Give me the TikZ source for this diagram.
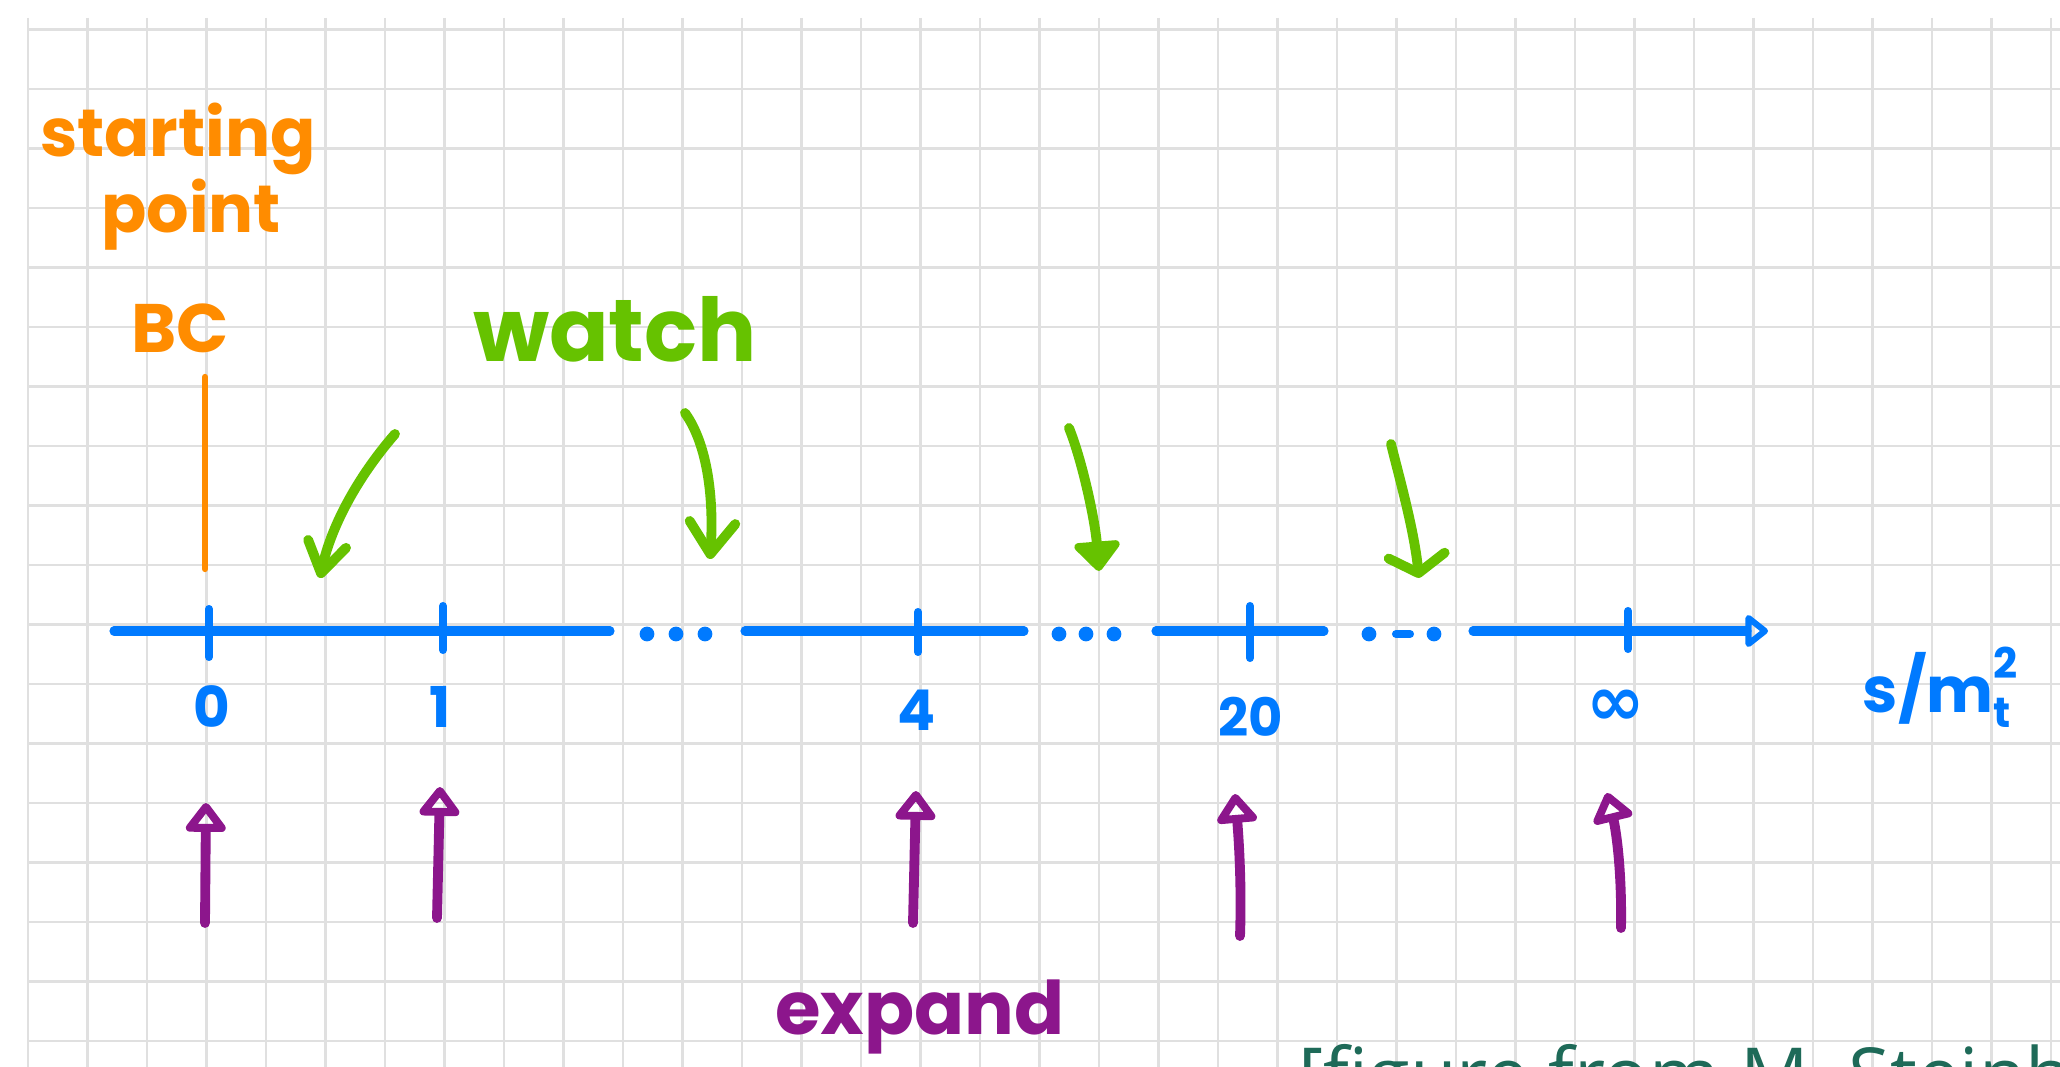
\documentclass[tikz,border=0pt]{standalone}
\usepackage{fontspec}
\usetikzlibrary{arrows.meta}
\newfontfamily\handfont{Poppins}
\newfontfamily\citefont{Open Sans}
\newfontfamily\symfont{DejaVu Sans}
\definecolor{gridc}{RGB}{224,224,224}
\definecolor{orangec}{RGB}{255,140,0}
\definecolor{greenc}{RGB}{102,194,0}
\definecolor{bluec}{RGB}{0,122,255}
\definecolor{purplec}{RGB}{140,22,140}
\definecolor{tealc}{RGB}{30,106,88}
\tikzset{
  gridline/.style={gridc, line width=0.6pt},
  hand/.style={inner sep=0pt, font=\handfont\bfseries},
  axisline/.style={bluec, line width=2.6pt, line cap=round},
  tickline/.style={bluec, line width=2.3pt, line cap=round},
  dotmark/.style={fill=bluec},
  watcharrow/.style={greenc, line width=2.8pt, line cap=round},
  expandarrow/.style={purplec, line width=2.8pt, line cap=round,
     -{Triangle[open, round, length=9pt, width=13pt]}},
}
\begin{document}
\begin{tikzpicture}[x=0.01cm, y=-0.01cm]
\fill[white] (0,0) rectangle (2060,1067);
\useasboundingbox (0,0) rectangle (2060,1067);
\clip (0,0) rectangle (2060,1067);
% grid
\foreach \k in {0,...,34} {
  \draw[gridline] ({28+59.5*\k},18) -- ({28+59.5*\k},1067);
}
\foreach \k in {0,...,17} {
  \draw[gridline] (28,{29.5+59.5*\k}) -- (2060,{29.5+59.5*\k});
}
% orange labels
\node[hand, orangec, anchor=base, font=\handfont\bfseries\fontsize{19}{22}\selectfont] (starting) at (178,157) {starting};
\node[hand, orangec, anchor=base, font=\handfont\bfseries\fontsize{19}{22}\selectfont] (point) at (191,233) {point};
\node[hand, orangec, anchor=base, font=\handfont\bfseries\fontsize{19.5}{23}\selectfont] (BC) at (180,353) {BC};
\coordinate (bctop) at (205,377);
\coordinate (bcend) at (205,569);
\draw[orangec, line width=1.8pt, line cap=round] (bctop) -- (bcend);
% green label
\node[hand, greenc, anchor=base, font=\handfont\bfseries\fontsize{25}{30}\selectfont] (watch) at (615,362) {watch};
% axis
\coordinate (a1s) at (114,631); \coordinate (a1e) at (610,631);
\coordinate (a2s) at (745,631); \coordinate (a2e) at (1024,631);
\coordinate (a3s) at (1156,631); \coordinate (a3e) at (1324,631);
\coordinate (a4s) at (1473,631); \coordinate (a4e) at (1768,631);
\draw[axisline] (a1s) -- (a1e);
\draw[axisline] (a2s) -- (a2e);
\draw[axisline] (a3s) -- (a3e);
\draw[axisline, -{Triangle[open, round, length=7pt, width=10.5pt]}] (a4s) -- (a4e);
\foreach \x in {647,676,705,1059,1086,1114,1369,1434} {
  \fill[dotmark] (\x,634) circle[radius=2.1pt];
}
\draw[tickline] (1396,634) -- (1410,634);
% ticks
\coordinate (t0) at (209,631);
\coordinate (t1) at (443,631);
\coordinate (t4) at (918,631);
\coordinate (t20) at (1250,631);
\coordinate (tinf) at (1628,631);
\draw[tickline] (209,609) -- (209,657);
\draw[tickline] (443,606) -- (443,650);
\draw[tickline] (918,612) -- (918,652);
\draw[tickline] (1250,606) -- (1250,658);
\draw[tickline] (1628,611) -- (1628,649);
% tick labels
\node[hand, bluec, anchor=base, font=\handfont\bfseries\fontsize{16}{19}\selectfont] (l0) at (212,728) {0};
\node[hand, bluec, anchor=base, font=\handfont\bfseries\fontsize{16}{19}\selectfont] (l1) at (440,728) {1};
\node[hand, bluec, anchor=base, font=\handfont\bfseries\fontsize{16}{19}\selectfont] (l4) at (917,730) {4};
\node[hand, bluec, anchor=base, font=\handfont\bfseries\fontsize{15}{18}\selectfont] (l20) at (1251,736) {20};
\node[hand, bluec, anchor=center, font=\symfont\bfseries\fontsize{20}{24}\selectfont] (linf) at (1616,708) {∞};
\node[hand, bluec, anchor=base west, font=\handfont\bfseries\fontsize{18}{21}\selectfont] (smt) at (1862,712)
  {s/m\makebox[0pt][l]{\raisebox{-0.45ex}{\fontsize{12}{14}\selectfont t}}\raisebox{0.95ex}{\fontsize{12}{14}\selectfont 2}};
% green watch arrows
\coordinate (w1s) at (395,434); \coordinate (w1e) at (320,578);
\coordinate (w2s) at (685,413); \coordinate (w2e) at (710,559);
\coordinate (w3s) at (1069,428); \coordinate (w3e) at (1099,571);
\coordinate (w4s) at (1391,444); \coordinate (w4e) at (1419,578);
\draw[watcharrow, -{Straight Barb[round, length=8.5pt, width=11pt]}] (w1s) .. controls (355,480) and (330,530) .. (w1e);
\draw[watcharrow, -{Straight Barb[round, length=9pt, width=13pt]}] (w2s) .. controls (708,445) and (714,500) .. (w2e);
\draw[watcharrow, -{Triangle[round, length=9pt, width=15pt]}] (w3s) .. controls (1082,460) and (1095,520) .. (w3e);
\draw[watcharrow, -{Straight Barb[round, length=5pt, width=16pt]}] (w4s) .. controls (1400,480) and (1414,530) .. (w4e);
% purple expand arrows
\coordinate (p0s) at (205,923); \coordinate (p0e) at (206,803);
\coordinate (p1s) at (437,918); \coordinate (p1e) at (440,787);
\coordinate (p4s) at (913,923); \coordinate (p4e) at (916,791);
\coordinate (p20s) at (1240,936); \coordinate (p20e) at (1235,794);
\coordinate (pinfs) at (1621,928); \coordinate (pinfe) at (1607,793);
\draw[expandarrow] (p0s) -- (p0e);
\draw[expandarrow] (p1s) -- (p1e);
\draw[expandarrow] (p4s) -- (p4e);
\draw[expandarrow] (p20s) .. controls (1242,880) and (1238,830) .. (p20e);
\draw[expandarrow] (pinfs) .. controls (1622,870) and (1616,830) .. (pinfe);
\node[hand, purplec, anchor=base, font=\handfont\bfseries\fontsize{21}{25}\selectfont] (expand) at (920,1034) {expand};
% citation (cut off at the bottom edge, as in the reference)
\node[inner sep=0pt, anchor=base west, tealc, font=\citefont\fontsize{21.6}{26}\selectfont] (cite) at (1298,1102) {[figure from M. Steinh};
\end{tikzpicture}
\end{document}
